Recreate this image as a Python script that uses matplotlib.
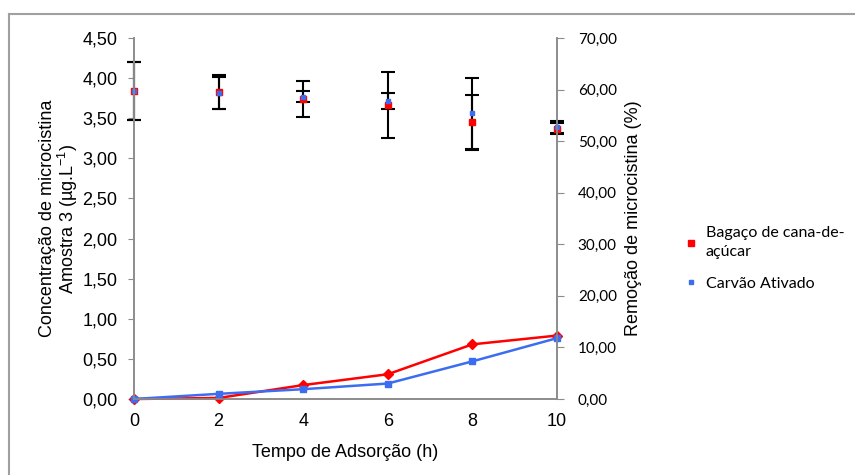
import matplotlib
matplotlib.use("Agg")
import matplotlib.pyplot as plt
from matplotlib.lines import Line2D
from matplotlib.ticker import FuncFormatter, MultipleLocator

plt.rcParams["font.family"] = ["Liberation Sans", "DejaVu Sans"]
plt.rcParams["mathtext.default"] = "regular"

# Data
tempo = [0, 2, 4, 6, 8, 10]
conc_bagaco = [3.84, 3.83, 3.74, 3.66, 3.45, 3.37]
err_bagaco = [0.36, 0.21, 0.23, 0.41, 0.34, 0.07]
conc_carvao = [3.84, 3.81, 3.77, 3.72, 3.56, 3.39]
err_carvao = [0.36, 0.20, 0.07, 0.10, 0.44, 0.08]
rem_bagaco = [0.0, 0.2, 2.7, 4.8, 10.6, 12.3]
rem_carvao = [0.0, 1.0, 1.9, 3.0, 7.3, 11.8]

red = "#ff0000"
blue = "#3c6df0"
grey = "#8c8c8c"

fig = plt.figure(figsize=(8.55, 4.75), dpi=100)
ax = fig.add_axes([134 / 855, 1 - 399 / 475, 423 / 855, 361 / 475])
ax2 = ax.twinx()

# concentration points with error bars (left axis)
for conc, err in [(conc_bagaco, err_bagaco), (conc_carvao, err_carvao)]:
    _, caps, bars = ax.errorbar(tempo, conc, yerr=err, fmt="none", ecolor="black",
                                elinewidth=1.5, capsize=5, capthick=1.5, zorder=2)
    for c in caps:
        c.set_clip_on(False)
    for b in bars:
        b.set_clip_on(False)
ax.plot(tempo, conc_bagaco, "s", color=red, markersize=4.5, zorder=3, clip_on=False)
ax.plot(tempo, conc_carvao, "s", color=blue, markersize=3, zorder=4, clip_on=False)

# removal lines (right axis)
ax2.plot(tempo, rem_bagaco, "-D", color=red, lw=1.8, markersize=5, clip_on=False)
ax2.plot(tempo, rem_carvao, "-s", color=blue, lw=1.8, markersize=4, clip_on=False)

ax.set_xlim(0, 10)
ax.set_ylim(0, 4.5)
ax2.set_ylim(0, 70)
ax.xaxis.set_major_locator(MultipleLocator(2))
ax.yaxis.set_major_locator(MultipleLocator(0.5))
ax2.yaxis.set_major_locator(MultipleLocator(10))
ax.yaxis.set_major_formatter(FuncFormatter(lambda v, p: f"{v:.2f}".replace(".", ",")))
ax2.yaxis.set_major_formatter(FuncFormatter(lambda v, p: f"{v:.2f}".replace(".", ",")))

for a in (ax, ax2):
    a.spines["top"].set_visible(False)
    for s in ("left", "right", "bottom"):
        a.spines[s].set_color(grey)
        a.spines[s].set_linewidth(1.2)
ax.tick_params(axis="x", length=0, pad=10, labelsize=13)
ax.tick_params(axis="y", direction="out", length=4, color=grey, pad=8, labelsize=13)
ax2.tick_params(axis="y", direction="out", length=5, color=grey, pad=10, labelsize=11)
for lab in ax2.get_yticklabels():
    lab.set_fontfamily("Lato")

ax.set_xlabel("Tempo de Adsorção (h)", fontsize=13, labelpad=10)
ax.set_ylabel("Concentração de microcistina\nAmostra 3 (µg.L$^{-1}$)", fontsize=13,
              linespacing=1.0)
ax.yaxis.set_label_coords(-0.128, 0.5)
ax2.set_ylabel("Remoção de microcistina (%)", fontsize=13)
ax2.yaxis.set_label_coords(1.16, 0.5)

handles = [
    Line2D([], [], marker="s", color=red, ls="none", markersize=4),
    Line2D([], [], marker="s", color=blue, ls="none", markersize=3),
]
leg = fig.legend(handles, ["Bagaço de cana-de-\naçúcar", "Carvão Ativado"],
                 loc="upper left", bbox_to_anchor=(672 / 855, 1 - 212 / 475),
                 frameon=False, handlelength=0.6, handletextpad=0.6,
                 labelspacing=1.1, prop={"family": "Lato", "size": 11.5})
for t in leg.get_texts():
    t.set_linespacing(1.45)

# outer chart frame
fig.add_artist(Line2D([9 / 855, 1], [1 - 14 / 475] * 2, color="#a0a0a0", lw=1.5,
                      transform=fig.transFigure))
fig.add_artist(Line2D([9 / 855] * 2, [0, 1 - 14 / 475], color="#a0a0a0", lw=1.5,
                      transform=fig.transFigure))

fig.savefig("out.png", dpi=100)
